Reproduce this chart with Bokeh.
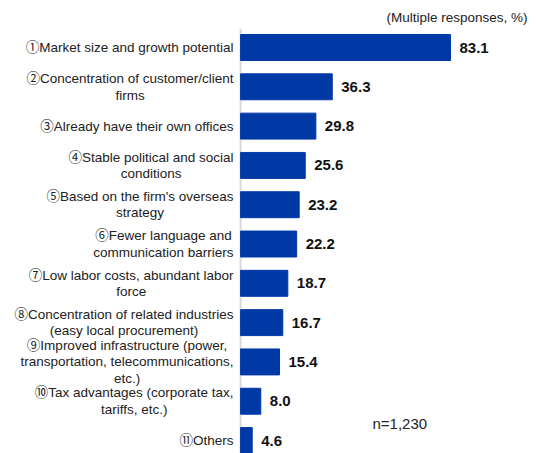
from bokeh.plotting import figure
from bokeh.models import ColumnDataSource, Range1d, Label
from bokeh.core.properties import value
from bokeh.embed import file_html
from bokeh.resources import INLINE

categories = [
    "①Market size and growth potential",
    "②Concentration of customer/client\nfirms",
    "③Already have their own offices",
    "④Stable political and social\nconditions",
    "⑤Based on the firm's overseas\nstrategy",
    "⑥Fewer language and\ncommunication barriers",
    "⑦Low labor costs, abundant labor\nforce",
    "⑧Concentration of related industries\n(easy local procurement)",
    "⑨Improved infrastructure (power,\ntransportation, telecommunications,\netc.)",
    "⑩Tax advantages (corporate tax,\ntariffs, etc.)",
    "⑪Others",
]
values = [83.1, 36.3, 29.8, 25.6, 23.2, 22.2, 18.7, 16.7, 15.4, 8.0, 4.6]
value_labels = [f"{v:.1f}" for v in values]
note_title = "(Multiple responses, %)"
note_n = "n=1,230"

FONT = "'Liberation Sans', 'Noto Sans CJK JP'"
BAR_COLOR = "#0039A6"

idx = list(range(len(categories)))
src = ColumnDataSource(dict(y=idx, v=values, cat=categories, vl=value_labels, zero=[0] * len(idx)))

p = figure(
    width=536, height=453,
    x_range=Range1d(-95.05, 117.15),
    y_range=Range1d(10.33, -1.196),
    output_backend="svg", toolbar_location=None,
    x_axis_location=None, y_axis_location=None,
    min_border=0,
)
p.outline_line_color = None
p.xgrid.visible = False
p.ygrid.visible = False
p.background_fill_color = "white"

# axis line
p.segment(x0=[0], y0=[-0.48], x1=[0], y1=[len(categories)], line_color="#d9d9d9", line_width=2)

p.hbar(y="y", left=0, right="v", height=0.66, source=src, fill_color=BAR_COLOR, line_color=BAR_COLOR)

p.text(x="zero", y="y", text="cat", source=src, x_offset=-7,
       anchor="center_right", text_align="center", text_baseline="middle",
       text_font=value(FONT), text_font_size="13.5px", text_color="#222222", text_line_height=1.1)

p.text(x="v", y="y", text="vl", source=src, x_offset=9,
       text_align="left", text_baseline="middle",
       text_font=value(FONT), text_font_size="15px", text_font_style="bold", text_color="#111111")

p.add_layout(Label(x=527, y=436, x_units="screen", y_units="screen", text=note_title,
                   text_align="right", text_baseline="middle", text_font=FONT,
                   text_font_size="13.5px", text_color="#222222"))
p.add_layout(Label(x=372, y=30, x_units="screen", y_units="screen", text=note_n,
                   text_align="left", text_baseline="middle", text_font=FONT,
                   text_font_size="15px", text_color="#222222"))

open("out.html", "w").write(file_html(p, INLINE))
